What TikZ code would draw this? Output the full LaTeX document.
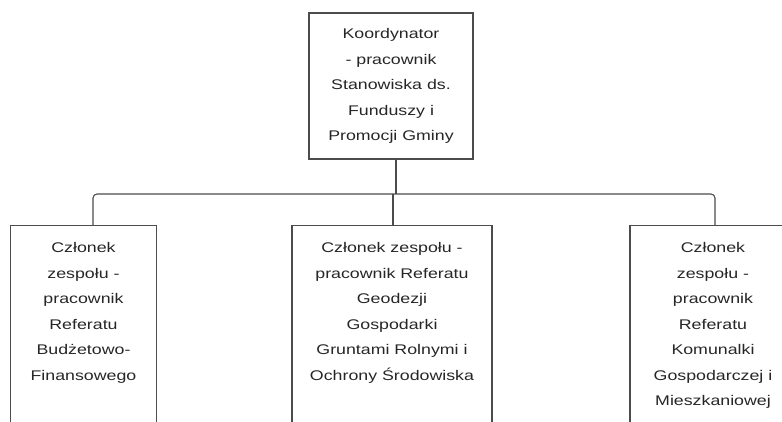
\documentclass[tikz,border=0pt]{standalone}
\usepackage{fontspec}
\setmainfont{Liberation Sans}[FakeStretch=1.27]

\begin{document}
\begin{tikzpicture}[x=1pt,y=-1pt]
      \tikzstyle{every node}+=[font=\fontsize{14}{25.5}\selectfont, text=black!85, align=center]
      \tikzstyle{unitbox}=[draw=black!70, line width=1.1pt, inner xsep=2pt]
      \tikzstyle{memberbox}=[unitbox, anchor=north, inner ysep=17pt, text depth=200pt]
      \tikzstyle{link}=[draw=black!70, line width=1.1pt, rounded corners=4pt]
      \useasboundingbox (0,0) rectangle (782,421);
      \clip (0,0) rectangle (782,421);
      \node [unitbox, minimum width=164pt, minimum height=146pt] (koord) at (391,86)
            {Koordynator\\- pracownik\\Stanowiska ds.\\Funduszy i\\Promocji Gminy};
      \node [memberbox, minimum width=146pt] (budzet) at (83.5,225)
            {Członek\\zespołu -\\pracownik\\Referatu\\Budżetowo-\\Finansowego};
      \node [memberbox, minimum width=200pt] (geodez) at (392,225)
            {Członek zespołu -\\pracownik Referatu\\Geodezji\\Gospodarki\\Gruntami Rolnymi i\\Ochrony Środowiska};
      \node [memberbox, minimum width=166pt] (komunal) at (713,225)
            {Członek\\zespołu -\\pracownik\\Referatu\\Komunalki\\Gospodarczej i\\Mieszkaniowej};
      \coordinate (bus) at (0,194);
      \draw [link] ([xshift=5pt]koord.south) -- ([xshift=5pt]koord.south |- bus);
      \draw [link] ([xshift=9.5pt]budzet.north) |- ([xshift=2pt]komunal.north |- bus) -- ([xshift=2pt]komunal.north);
      \draw [link] ([xshift=1pt]geodez.north) -- ([xshift=1pt]geodez.north |- bus);
\end{tikzpicture}
\end{document}
